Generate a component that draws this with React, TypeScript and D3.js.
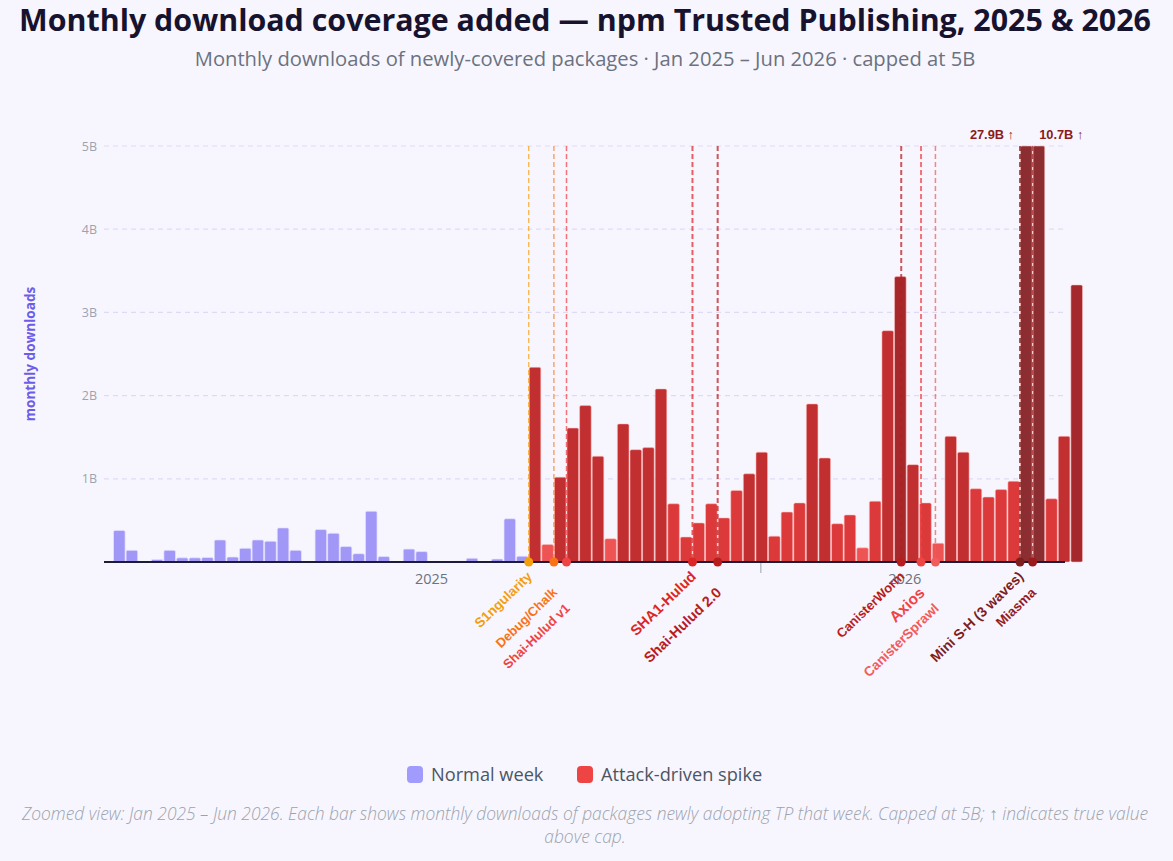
import React, { useRef, useEffect } from 'react';
import { select, scaleUtc, scaleLinear, utcDay, utcMonday, utcParse } from 'd3';

// weekly values, billions of monthly downloads
const normalValues = [
    0.38, 0.14, 0, 0.03, 0.14, 0.05, 0.05, 0.055, 0.265, 0.06, 0.165, 0.265, 0.25, 0.41, 0.14, 0, 0.39,
    0.345, 0.185, 0.1, 0.61, 0.065, 0, 0.155, 0.125, 0, 0, 0.01, 0.045, 0, 0.035, 0.52, 0.07,
];
const attackValues = [
    2.34, 0.21, 1.02, 1.61, 1.88, 1.27, 0.28, 1.66, 1.35, 1.375, 2.08, 0.7, 0.3, 0.47, 0.7, 0.53, 0.86,
    1.06, 1.32, 0.31, 0.6, 0.71, 1.9, 1.25, 0.46, 0.565, 0.17, 0.73, 2.78, 3.43, 1.17, 0.71, 0.225, 1.51,
    1.32, 0.88, 0.78, 0.87, 0.97, 27.9, 10.7, 0.76, 1.51, 3.33,
];
const firstWeek = '2025-01-06';
const viewRange = ['2025-01-01', '2026-06-19'];
const capValue = 5;
const yTickValues = [1, 2, 3, 4, 5];
const yearTickDates = ['2026-01-01'];
const yearLabels = ['2025', '2026'];
const yearLabelDates = ['2025-07-02', '2026-03-22'];

const eventNames = [
    'S1ngularity', 'Debug/Chalk', 'Shai-Hulud v1', 'SHA1-Hulud', 'Shai-Hulud 2.0',
    'CanisterWorm', 'Axios', 'CanisterSprawl', 'Mini S-H (3 waves)', 'Miasma',
];
const eventDates = [
    '2025-08-25', '2025-09-08', '2025-09-15', '2025-11-24', '2025-12-08',
    '2026-03-20', '2026-03-31', '2026-04-08', '2026-05-25', '2026-06-01',
];

// styling for the event markers
const eventColors = ['#f59e0b', '#f97316', '#ef4444', '#dc2626', '#b91c1c', '#b91c1c', '#ef4444', '#f15b5b', '#7f1d1d', '#991b1b'];
const eventTier = [0, 1, 2, 0, 1, 0, 1, 2, 0, 1];
const eventFont = [13.5, 13, 13, 14.5, 14.5, 13, 15.5, 13.5, 14, 13.5];
const eventStroke = [1.3, 1.3, 1.5, 2, 2, 2, 2, 1.5, 2, 1.5];

const parse = utcParse('%Y-%m-%d');
const sans = '"Open Sans", "Segoe UI", sans-serif';
const arial = '"Liberation Sans", Arial, sans-serif';

function attackColor(v: number) {
    if (v >= capValue) return '#8b2d31';
    if (v >= 3) return '#a5292c';
    if (v >= 1) return '#c12f31';
    if (v >= 0.29) return '#dc393a';
    return '#ef5455';
}

export default function App() {
    const svgRef: { current: SVGSVGElement | null } = useRef(null);

    useEffect(() => {
        document.body.style.margin = '0';
        document.body.style.background = '#f7f6fe';

        const svg = select(svgRef.current);
        svg.selectAll('*').remove();

        const x = scaleUtc().domain(viewRange.map((d) => parse(d) as Date)).range([104, 1065]);
        const y = scaleLinear().domain([0, capValue]).range([562, 146]);
        const start = parse(firstWeek) as Date;

        const bars = [
            ...normalValues.map((v) => ({ v, attack: false })),
            ...attackValues.map((v) => ({ v, attack: true })),
        ].map((d, i) => {
            const date = utcMonday.offset(start, i);
            return { ...d, date, end: utcDay.offset(date, 7) };
        });

        svg.append('rect').attr('width', 1173).attr('height', 861).attr('fill', '#f7f6fe');

        // titles
        svg.append('text')
            .attr('x', 585).attr('y', 31)
            .attr('text-anchor', 'middle')
            .style('font', `bold 30.4px ${sans}`)
            .attr('fill', '#17132f')
            .text('Monthly download coverage added — npm Trusted Publishing, 2025 & 2026');
        svg.append('text')
            .attr('x', 585).attr('y', 66)
            .attr('text-anchor', 'middle')
            .style('font', `20.2px ${sans}`)
            .attr('fill', '#6b7280')
            .text('Monthly downloads of newly-covered packages · Jan 2025 – Jun 2026 · capped at 5B');

        // grid + y labels
        svg.append('g').selectAll('line')
            .data(yTickValues)
            .join('line')
            .attr('x1', 104).attr('x2', 1065)
            .attr('y1', (d) => y(d)).attr('y2', (d) => y(d))
            .attr('stroke', '#dedaf6').attr('stroke-width', 1.2)
            .attr('stroke-dasharray', '5,4');
        svg.append('g').selectAll('text')
            .data(yTickValues)
            .join('text')
            .attr('x', 97).attr('y', (d) => y(d) + 4.5)
            .attr('text-anchor', 'end')
            .style('font', `12.5px ${sans}`)
            .attr('fill', '#9ca3af')
            .text((d) => `${d}B`);

        svg.append('text')
            .attr('transform', 'translate(35,354) rotate(-90)')
            .attr('text-anchor', 'middle')
            .style('font', `bold 13.6px ${sans}`)
            .attr('fill', '#6c5ce7')
            .text('monthly downloads');

        // bars
        svg.append('g').selectAll('rect')
            .data(bars.filter((d) => d.v > 0))
            .join('rect')
            .attr('x', (d) => x(d.date) + 0.5)
            .attr('width', (d) => x(d.end) - x(d.date) - 1)
            .attr('y', (d) => y(Math.min(d.v, capValue)))
            .attr('height', (d) => y(0) - y(Math.min(d.v, capValue)))
            .attr('rx', 1.5)
            .attr('fill', (d) => (d.attack ? attackColor(d.v) : '#a197f7'))
            .attr('stroke', (d) => (d.attack ? 'rgba(255,190,190,0.55)' : 'rgba(230,226,255,0.7)'))
            .attr('stroke-width', 1);

        // capped labels
        const capped = bars.filter((d) => d.v > capValue);
        svg.append('g').selectAll('text')
            .data(capped)
            .join('text')
            .attr('x', (d, i) => (i === 0 ? x(d.date) - 6 : x(d.end) - 6))
            .attr('y', 139)
            .attr('text-anchor', (d, i) => (i === 0 ? 'end' : 'start'))
            .style('font', `bold 12.8px ${arial}`)
            .attr('fill', '#8b1a1a')
            .text((d) => `${d.v}B ↑`);

        // events
        const events = eventNames.map((name, i) => ({ name, date: parse(eventDates[i]) as Date, i }));
        svg.append('g').selectAll('line')
            .data(events)
            .join('line')
            .attr('x1', (d) => x(d.date)).attr('x2', (d) => x(d.date))
            .attr('y1', 146).attr('y2', 562)
            .attr('stroke', (d) => eventColors[d.i])
            .attr('stroke-width', (d) => eventStroke[d.i])
            .attr('stroke-dasharray', '5,3')
            .attr('opacity', 0.72);

        // baseline + year axis
        svg.append('line')
            .attr('x1', 104).attr('x2', 1065).attr('y1', 562).attr('y2', 562)
            .attr('stroke', '#1e1b3a').attr('stroke-width', 2.2);
        svg.append('g').selectAll('line')
            .data(yearTickDates)
            .join('line')
            .attr('x1', (d) => x(parse(d) as Date)).attr('x2', (d) => x(parse(d) as Date))
            .attr('y1', 563).attr('y2', 573)
            .attr('stroke', '#9ca3af').attr('stroke-width', 1);
        svg.append('g').selectAll('text')
            .data(yearLabels)
            .join('text')
            .attr('x', (d, i) => x(parse(yearLabelDates[i]) as Date))
            .attr('y', 584)
            .attr('text-anchor', 'middle')
            .style('font', `14.5px ${sans}`)
            .attr('fill', '#6b7280')
            .text((d) => d);

        svg.append('g').selectAll('circle')
            .data(events)
            .join('circle')
            .attr('cx', (d) => x(d.date)).attr('cy', 562)
            .attr('r', 4.5)
            .attr('fill', (d) => eventColors[d.i]);

        svg.append('g').selectAll('text')
            .data(events)
            .join('text')
            .attr('transform', (d) => `translate(${x(d.date) + 1},${574 + eventTier[d.i] * 16}) rotate(-44)`)
            .attr('text-anchor', 'end')
            .attr('dy', '0.35em')
            .style('font', (d) => `bold ${eventFont[d.i]}px ${arial}`)
            .attr('fill', (d) => eventColors[d.i])
            .text((d) => d.name);

        // legend
        const legend = [
            { label: 'Normal week', color: '#a29bfe', x: 407 },
            { label: 'Attack-driven spike', color: '#ef4444', x: 577 },
        ];
        const lg = svg.append('g').selectAll('g').data(legend).join('g');
        lg.append('rect')
            .attr('x', (d) => d.x).attr('y', 766)
            .attr('width', 16).attr('height', 17).attr('rx', 4)
            .attr('fill', (d) => d.color);
        lg.append('text')
            .attr('x', (d) => d.x + 24).attr('y', 781)
            .style('font', `18.2px ${sans}`)
            .attr('fill', '#4b5563')
            .text((d) => d.label);

        // footnote
        svg.append('g').selectAll('text')
            .data([
                'Zoomed view: Jan 2025 – Jun 2026. Each bar shows monthly downloads of packages newly adopting TP that week. Capped at 5B; ↑ indicates true value',
                'above cap.',
            ])
            .join('text')
            .attr('x', 585).attr('y', (d, i) => 820 + i * 23)
            .attr('text-anchor', 'middle')
            .style('font', `italic 300 17.4px ${sans}`)
            .attr('fill', '#9ca3af')
            .text((d) => d);
    }, []);

    return <svg ref={svgRef} width={1173} height={861} style={{ display: 'block' }} />;
}
